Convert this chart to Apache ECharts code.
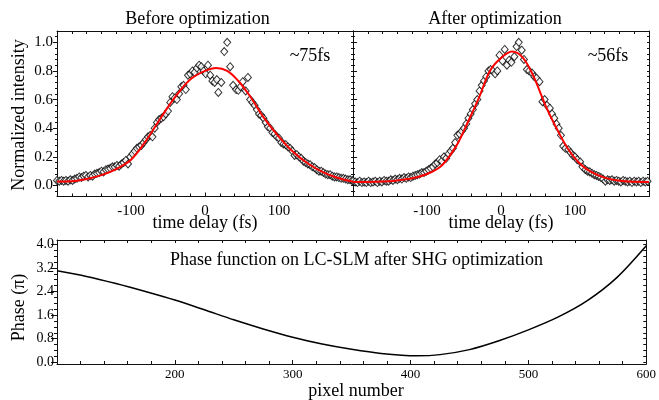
<!DOCTYPE html>
<html>
<head>
<meta charset="utf-8">
<script src="https://cdn.jsdelivr.net/npm/echarts@6/dist/echarts.min.js"></script>
<style>
  html, body { margin: 0; padding: 0; background: #fff; }
  #chart { width: 659px; height: 400px; }
</style>
</head>
<body>
<div id="chart"></div>
<script>
// Autocorrelation scan before optimization: [delay (fs), normalized intensity]
const beforeScan = [
  [-200,0.035],[-197,0.03],[-194,0.035],[-191,0.03],[-188,0.035],[-185,0.03],[-182,0.04],[-179,0.035],
  [-176,0.045],[-173,0.05],[-170,0.06],[-167,0.055],[-164,0.065],[-161,0.07],[-158,0.06],[-155,0.07],
  [-152,0.065],[-149,0.08],[-146,0.085],[-143,0.09],[-140,0.1],[-137,0.095],[-134,0.11],[-131,0.115],
  [-128,0.12],[-125,0.13],[-122,0.13],[-119,0.14],[-116,0.135],[-113,0.15],[-110,0.16],[-107,0.175],
  [-104,0.15],[-101,0.2],[-98,0.22],[-95,0.24],[-92,0.26],[-89,0.27],[-86,0.28],[-83,0.3],
  [-80,0.32],[-77,0.34],[-74,0.35],[-71,0.34],[-68,0.4],[-65,0.44],[-62,0.46],[-59,0.47],
  [-56,0.48],[-53,0.5],[-50,0.52],[-47,0.58],[-44,0.62],[-41,0.61],[-38,0.6],[-35,0.64],
  [-32,0.69],[-29,0.7],[-26,0.67],[-23,0.77],[-20,0.78],[-17,0.8],[-14,0.79],[-11,0.82],
  [-8,0.84],[-5,0.83],[-2,0.8],[1,0.78],[4,0.84],[7,0.77],[10,0.73],[13,0.72],
  [16,0.74],[18,0.65],[22,0.72],[26,0.935],[30,1.0],[34,0.83],[38,0.7],[42,0.67],
  [45,0.665],[48,0.69],[51,0.725],[55,0.66],[58,0.755],[61,0.6],[64,0.58],[67,0.56],
  [70,0.53],[73,0.5],[76,0.49],[79,0.47],[82,0.44],[85,0.41],[88,0.4],[91,0.37],
  [94,0.36],[97,0.34],[100,0.33],[103,0.3],[106,0.29],[109,0.285],[112,0.27],[115,0.26],
  [118,0.24],[121,0.21],[124,0.215],[127,0.2],[130,0.19],[133,0.17],[136,0.16],[139,0.15],
  [142,0.145],[145,0.13],[148,0.125],[151,0.11],[154,0.1],[157,0.1],[160,0.09],[163,0.08],
  [166,0.075],[169,0.075],[172,0.065],[175,0.06],[178,0.06],[181,0.055],[184,0.05],[187,0.05],
  [190,0.045],[193,0.04],[196,0.04],[199,0.035]
];

// Fitted envelope before optimization
const beforeFit = [
  [-200,0.028],[-180,0.03],[-160,0.045],[-140,0.072],[-120,0.115],[-100,0.18],[-80,0.31],
  [-60,0.47],[-40,0.62],[-20,0.74],[0,0.8],[15,0.82],[30,0.8],[45,0.73],[60,0.63],
  [80,0.47],[100,0.34],[120,0.23],[140,0.15],[160,0.092],[180,0.052],[200,0.027]
];

// Autocorrelation scan after optimization
const afterScan = [
  [-200,0.03],[-197,0.025],[-194,0.02],[-191,0.03],[-188,0.02],[-185,0.025],[-182,0.02],[-179,0.03],
  [-176,0.02],[-173,0.025],[-170,0.03],[-167,0.02],[-164,0.03],[-161,0.025],[-158,0.035],[-155,0.03],
  [-152,0.03],[-149,0.04],[-146,0.035],[-143,0.045],[-140,0.04],[-137,0.05],[-134,0.045],[-131,0.055],
  [-128,0.05],[-125,0.06],[-122,0.055],[-119,0.065],[-116,0.07],[-113,0.075],[-110,0.08],[-107,0.09],
  [-104,0.09],[-101,0.1],[-98,0.11],[-95,0.12],[-92,0.13],[-89,0.15],[-86,0.16],[-83,0.18],
  [-80,0.17],[-77,0.2],[-74,0.19],[-71,0.22],[-68,0.24],[-65,0.26],[-62,0.3],[-59,0.35],
  [-56,0.36],[-53,0.38],[-50,0.4],[-47,0.43],[-44,0.47],[-41,0.5],[-38,0.53],[-35,0.57],
  [-32,0.6],[-29,0.66],[-26,0.7],[-23,0.73],[-20,0.76],[-17,0.8],[-14,0.81],[-11,0.8],
  [-8,0.78],[-5,0.8],[-2,0.91],[2,0.87],[5,0.95],[8,0.84],[11,0.875],[14,0.86],
  [18,0.9],[21,0.97],[24,1.0],[28,0.945],[31,0.88],[35,0.81],[38,0.8],[42,0.785],
  [45,0.76],[48,0.75],[52,0.725],[56,0.585],[59,0.6],[62,0.56],[66,0.54],[69,0.5],
  [72,0.47],[75,0.43],[78,0.4],[81,0.35],[84,0.275],[87,0.26],[91,0.25],[94,0.23],
  [97,0.21],[100,0.2],[103,0.18],[107,0.165],[110,0.13],[114,0.11],[117,0.1],[120,0.095],
  [123,0.085],[126,0.075],[129,0.07],[132,0.063],[135,0.055],[138,0.045],[141,0.03],[144,0.04],
  [147,0.035],[150,0.04],[153,0.03],[156,0.035],[159,0.03],[162,0.025],[165,0.035],[168,0.03],
  [171,0.025],[174,0.03],[177,0.02],[180,0.03],[183,0.025],[186,0.03],[189,0.02],[192,0.03],
  [195,0.025],[198,0.03]
];

// Fitted envelope after optimization
const afterFit = [
  [-200,0.025],[-180,0.025],[-160,0.027],[-140,0.035],[-120,0.05],[-100,0.08],[-80,0.14],
  [-60,0.28],[-45,0.44],[-30,0.61],[-15,0.8],[0,0.89],[15,0.935],[30,0.89],[45,0.75],
  [60,0.56],[75,0.4],[90,0.26],[105,0.16],[120,0.1],[140,0.055],[160,0.033],[180,0.026],[200,0.025]
];

// Phase applied on the LC-SLM: [pixel, phase (units of pi)]
const slmPhase = [
  [100,3.1],[125,2.91],[150,2.67],[175,2.4],[200,2.11],[225,1.78],[250,1.44],[275,1.13],
  [300,0.85],[325,0.62],[350,0.44],[375,0.3],[405,0.22],[425,0.26],[450,0.43],[475,0.73],
  [500,1.1],[525,1.53],[550,2.09],[575,2.87],[600,3.95]
];

// Axis tick labels
const delayTicks = [-100, 0, 100];
const intensityTicks = [0, 0.2, 0.4, 0.6, 0.8, 1.0];
const pixelTicks = [200, 300, 400, 500, 600];
const phaseTicks = [0, 0.8, 1.6, 2.4, 3.2, 4.0];

const SERIF = '"Liberation Serif", "Times New Roman", serif';
const INK = '#111';

function steps(from, to, step) {
  const out = [];
  for (let k = 0; from + k * step <= to + 1e-9; k++) out.push(+(from + k * step).toFixed(4));
  return out;
}

const delayMinor = steps(-200, 200, 20);
const intensityMinor = steps(-0.04, 1.08, 0.04);
const pixelMinor = steps(100, 600, 20);
const phaseMinor = steps(0, 4.1, 0.2);

// Builds the framing axes (labelled, minor ticks, opposite side) for one panel edge pair
function frameAxes(gridIndex, dim, range, major, minor, fmt, labelSize, opts) {
  const isX = dim === 'x';
  const near = isX ? 'bottom' : 'left';
  const far = isX ? 'top' : 'right';
  const base = { type: 'value', gridIndex, min: range[0], max: range[1], splitLine: { show: false } };
  const line = { show: true, onZero: false, lineStyle: { color: INK, width: 1 } };
  return [
    Object.assign({}, base, {
      position: near,
      axisLine: line,
      axisTick: { show: true, customValues: major, inside: opts.inside, length: opts.majorLen, lineStyle: { color: INK } },
      axisLabel: { show: true, customValues: major, formatter: fmt, margin: opts.margin,
                   fontFamily: SERIF, fontSize: labelSize, color: '#000' }
    }),
    Object.assign({}, base, {
      position: near,
      axisLine: { show: false, onZero: false },
      axisTick: { show: true, customValues: minor, inside: opts.inside, length: opts.minorLen, lineStyle: { color: INK } },
      axisLabel: { show: false }
    }),
    Object.assign({}, base, {
      position: far,
      axisLine: line,
      axisTick: { show: true, customValues: minor, inside: true, length: opts.minorLen, lineStyle: { color: INK } },
      axisLabel: { show: false }
    })
  ];
}

const topX = { inside: true, majorLen: 4, minorLen: 3, margin: 7 };
const topY = { inside: false, majorLen: 4, minorLen: 2, margin: 4 };
const botX = { inside: true, majorLen: 4, minorLen: 3, margin: 4 };
const botY = { inside: false, majorLen: 6, minorLen: 3, margin: 3 };

const delayRange = [-200, 200];
const intensityRange = [-0.077, 1.079];
const pixelRange = [100, 600];
const phaseRange = [-0.058, 4.146];

const fmtInt = v => String(Math.round(v));
const fmt1 = v => v.toFixed(1);

const xAxes = [].concat(
  frameAxes(0, 'x', delayRange, delayTicks, delayMinor, fmtInt, 15, topX),
  frameAxes(1, 'x', delayRange, delayTicks, delayMinor, fmtInt, 15, topX),
  frameAxes(2, 'x', pixelRange, pixelTicks, pixelMinor, fmtInt, 13, botX)
);
const leftY0 = frameAxes(0, 'y', intensityRange, intensityTicks, intensityMinor, fmt1, 15, topY);
const leftY1 = frameAxes(1, 'y', intensityRange, intensityTicks, intensityMinor, fmt1, 15, topY);
// the right panel shares its left edge with the left panel: no labels there, ticks inward
leftY1[0].axisLabel.show = false;
leftY1[0].axisTick.inside = true;
leftY1[1].axisTick.inside = true;
const yAxes = [].concat(
  leftY0, leftY1,
  frameAxes(2, 'y', phaseRange, phaseTicks, phaseMinor, fmt1, 14, botY)
);

function scanSeries(data, grid) {
  return {
    type: 'scatter', xAxisIndex: grid * 3, yAxisIndex: grid * 3, data,
    symbol: 'diamond', symbolSize: [7, 8],
    itemStyle: { color: '#fff', borderColor: '#000', borderWidth: 1 },
    z: 2, silent: true
  };
}
function fitSeries(data, grid, color, width, smooth) {
  return {
    type: 'line', xAxisIndex: grid * 3, yAxisIndex: grid * 3, data,
    smooth, showSymbol: false,
    lineStyle: { color, width }, z: 3, silent: true
  };
}

function label(text, x, y, size, rotate) {
  return {
    type: 'text', x, y, rotation: rotate ? Math.PI / 2 : 0,
    style: { text, fill: '#000', font: size + 'px ' + SERIF, textAlign: 'center', textVerticalAlign: 'middle' }
  };
}

const chart = echarts.init(document.getElementById('chart'), null, { renderer: 'canvas' });
chart.setOption({
  animation: false,
  backgroundColor: '#fff',
  grid: [
    { left: 57, top: 31, width: 296, height: 165.5 },
    { left: 353, top: 31, width: 296, height: 165.5 },
    { left: 57, top: 240, width: 592, height: 124 }
  ],
  xAxis: xAxes,
  yAxis: yAxes,
  series: [
    scanSeries(beforeScan, 0),
    fitSeries(beforeFit, 0, '#ff0000', 2, 0.35),
    scanSeries(afterScan, 1),
    fitSeries(afterFit, 1, '#ff0000', 2, 0.35),
    fitSeries(slmPhase, 2, '#000', 1.5, 0.3)
  ],
  graphic: [
    label('Before optimization', 197.5, 19, 18),
    label('After optimization', 495, 19, 18),
    label('~75fs', 310, 56, 18),
    label('~56fs', 608, 56, 18),
    label('time delay (fs)', 205, 223, 18),
    label('time delay (fs)', 501, 223, 18),
    label('Normalized intensity', 19, 115, 18, true),
    label('Phase function on LC-SLM after SHG optimization', 356.5, 260, 18),
    label('Phase (\u03c0)', 19, 307.5, 18, true),
    label('pixel number', 356, 391, 18)
  ]
});
</script>
</body>
</html>
